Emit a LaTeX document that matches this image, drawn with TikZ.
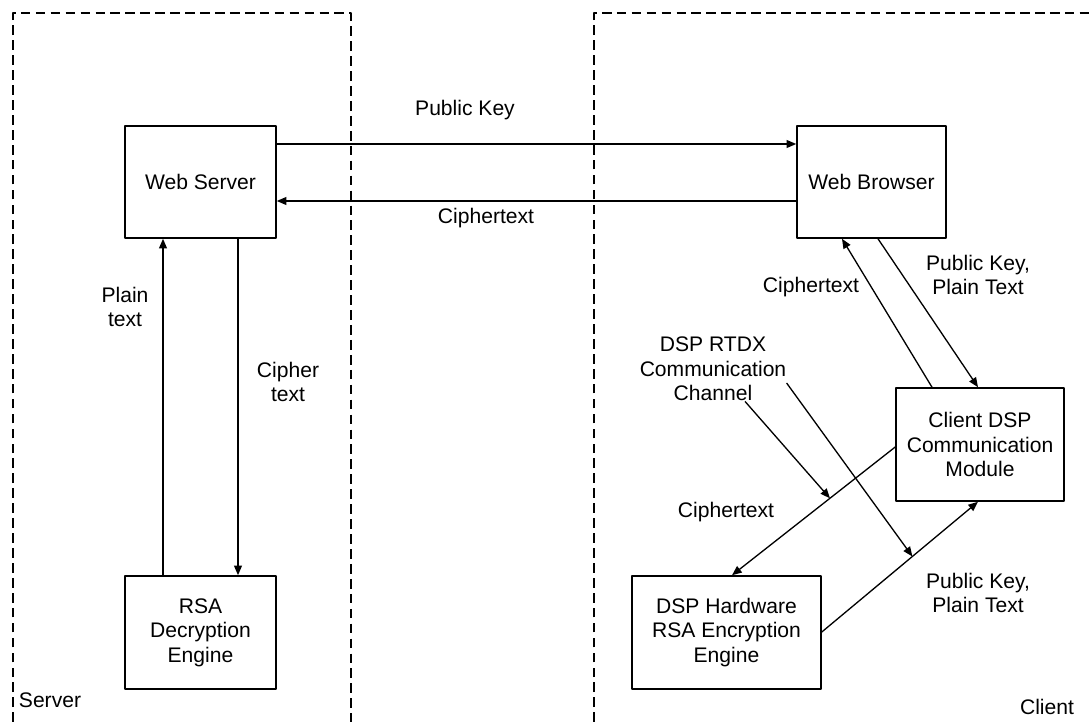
\documentclass[tikz,border=0pt]{standalone}
\usepackage{fontspec}
\setmainfont{Liberation Sans}
\usetikzlibrary{arrows.meta}
\begin{document}
\begin{tikzpicture}[x=0.02cm,y=-0.02cm,>={Triangle[length=5.5pt,width=4.5pt]}, font=\fontsize{12}{14}\selectfont, line join=round,
	box/.style={draw,line width=0.9pt,align=center,inner sep=0pt},
	zone/.style={draw,line width=1.1pt,dash pattern=on 5.5pt off 3pt},
	link/.style={->,line width=0.75pt},
	lbl/.style={align=center,inner sep=0pt}]
	\useasboundingbox (0,0) rectangle (1091,722);
	% Khung
	\draw[zone] (13,722)--(13,13)--(351,13)--(351,722);
	\draw[zone] (594,722)--(594,13)--(1091,13);
	\node[lbl] (srv) at (50,700) {Server};
	\node[lbl] (cli) at (1047,707) {Client};
	% Khối
	\node[box,minimum width=3.02cm,minimum height=2.24cm] (ws) at (200.5,182) {Web Server};
	\node[box,minimum width=2.98cm,minimum height=2.24cm] (wb) at (871.5,182) {Web Browser};
	\node[box,minimum width=3.02cm,minimum height=2.26cm] (rsa) at (200.5,632.5) {RSA\\Decryption\\Engine};
	\node[box,minimum width=3.36cm,minimum height=2.26cm] (cdsp) at (980,444.5) {Client DSP\\Communication\\Module};
	\node[box,minimum width=3.78cm,minimum height=2.26cm] (hw) at (726.5,632.5) {DSP Hardware\\RSA Encryption\\Engine};
	\node[lbl] (chan) at (713,369) {DSP RTDX\\Communication\\Channel};
	% Mũi tên
	\draw[link] (ws.east |- 0,144)--(wb.west |- 0,144);
	\draw[link] (wb.west |- 0,201)--(ws.east |- 0,201);
	\draw[link] (rsa.north -| 163,0)--(ws.south -| 163,0);
	\draw[link] (ws.south -| 238,0)--(rsa.north -| 238,0);
	\draw[link] (wb.south -| 878,0)--(cdsp.north -| 978,0);
	\draw[link] (cdsp.north -| 932,0)--(wb.south -| 842,0);
	\draw[link] (cdsp.west |- 0,447)-- coordinate[pos=0.4] (c1) (hw.north -| 732,0);
	\draw[link] (hw.east |- 0,632)-- coordinate[pos=0.58] (c2) (cdsp.south -| 978,0);
	\draw[link] (chan.south -| 745,0)--(c1);
	\draw[link] (chan.east |- 0,383)--(c2);
	% Nhãn
	\node[lbl] (pk) at (465,110) {Public Key};
	\node[lbl] (ct) at (486,218) {Ciphertext};
	\node[lbl] (pt) at (125,307) {Plain\\text};
	\node[lbl] (cit) at (288,382) {Cipher\\text};
	\node[lbl] (ct2) at (811,287) {Ciphertext};
	\node[lbl] (pkpt) at (978,275) {Public Key,\\Plain Text};
	\node[lbl] (ct3) at (726,512) {Ciphertext};
	\node[lbl] (pkpt2) at (978,593) {Public Key,\\Plain Text};
\end{tikzpicture}
\end{document}
